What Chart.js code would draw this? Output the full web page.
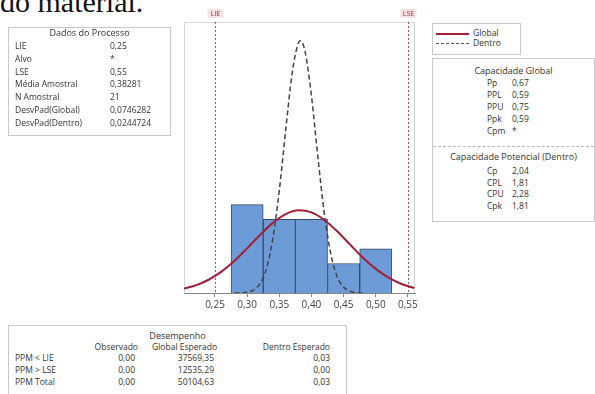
<!DOCTYPE html>
<html>
<head>
<meta charset="utf-8">
<script src="https://cdn.jsdelivr.net/npm/chart.js@4"></script>
<style>
  body { margin: 0; width: 595px; height: 394px; overflow: hidden; position: relative; background: #fff;
         font-family: "Open Sans", sans-serif; color: #333; }
  #chart { position: absolute; left: 0; top: 0; }
  .box { position: absolute; border: 1px solid #c9c9c9; background: #fff; font-size: 8.5px; }
  .ln { position: absolute; line-height: 12px; height: 12px; white-space: nowrap; }
  .title { font-size: 9px; }
  .head { position: absolute; top: -13px; left: 0; font: 30px/30px "Liberation Serif", serif; color: #111; white-space: nowrap; }
</style>
</head>
<body>
<div class="head">do material.</div>
<canvas id="chart" width="595" height="394"></canvas>

<script>
// histogram
const binCenters = [0.30, 0.35, 0.40, 0.45, 0.50];
const binCounts = [6, 5, 5, 2, 3];

// fitted curves (scaled to counts)
const globalX = [0.20, 0.22, 0.24, 0.26, 0.28, 0.30, 0.32, 0.34, 0.36, 0.38, 0.40, 0.42, 0.44, 0.46, 0.48, 0.50, 0.52, 0.54, 0.56];
const globalY = [0.28, 0.52, 0.90, 1.45, 2.17, 3.03, 3.94, 4.76, 5.36, 5.61, 5.47, 4.96, 4.19, 3.29, 2.40, 1.64, 1.04, 0.61, 0.34];
const withinX = [0.28, 0.30, 0.31, 0.32, 0.33, 0.34, 0.35, 0.36, 0.37, 0.38, 0.383, 0.39, 0.40, 0.41, 0.42, 0.43, 0.44, 0.45, 0.46, 0.47, 0.48];
const withinY = [0.00, 0.06, 0.20, 0.64, 1.67, 3.71, 6.97, 11.09, 14.93, 17.01, 17.12, 16.40, 13.38, 9.23, 5.39, 2.67, 1.12, 0.40, 0.12, 0.03, 0.00];

const xTicks = [0.25, 0.30, 0.35, 0.40, 0.45, 0.50, 0.55];
const specValues = [0.25, 0.55];
const specNames = ["LIE", "LSE"];

// side tables
const processLabels = ["LIE", "Alvo", "LSE", "Média Amostral", "N Amostral", "DesvPad(Global)", "DesvPad(Dentro)"];
const processValues = ["0,25", "*", "0,55", "0,38281", "21", "0,0746282", "0,0244724"];
const globalCapLabels = ["Pp", "PPL", "PPU", "Ppk", "Cpm"];
const globalCapValues = ["0,67", "0,59", "0,75", "0,59", "*"];
const withinCapLabels = ["Cp", "CPL", "CPU", "Cpk"];
const withinCapValues = ["2,04", "1,81", "2,28", "1,81"];
const perfRows = ["PPM < LIE", "PPM > LSE", "PPM Total"];
const perfCols = ["Observado", "Global Esperado", "Dentro Esperado"];
const perfObserved = ["0,00", "0,00", "0,00"];
const perfGlobal = ["37569,35", "12535,29", "50104,63"];
const perfWithin = ["0,03", "0,00", "0,03"];

function box(left, top, w, h) {
  const b = document.createElement("div");
  b.className = "box";
  Object.assign(b.style, { left: left + "px", top: top + "px", width: w + "px", height: h + "px" });
  document.body.appendChild(b);
  return b;
}
function line(b, text, x, cy, align, cls) {
  const d = document.createElement("div");
  d.className = "ln" + (cls ? " " + cls : "");
  d.textContent = text;
  d.style.top = (cy - 6) + "px";
  if (align === "center") { d.style.left = "0"; d.style.width = "100%"; d.style.textAlign = "center"; }
  else if (align === "right") { d.style.right = (b.clientWidth - x) + "px"; }
  else d.style.left = x + "px";
  b.appendChild(d);
}

// Dados do Processo
const b1 = box(8, 27, 161, 107);
line(b1, "Dados do Processo", 0, 5, "center", "title");
processLabels.forEach((t, i) => {
  line(b1, t, 6, 18 + i * 12.8);
  line(b1, processValues[i], 101, 18 + i * 12.8);
});

// legend
const lg = box(432, 23, 87, 30);
[["Global", "2px solid #a0203a", 9], ["Dentro", "1.5px dashed #555", 19]].forEach(([t, st, cy]) => {
  const s = document.createElement("div");
  Object.assign(s.style, { position: "absolute", left: "3px", width: "33px", top: cy + "px", borderTop: st });
  lg.appendChild(s);
  line(lg, t, 40, cy);
});

// Capacidade
const b2 = box(432, 58, 161, 162);
line(b2, "Capacidade Global", 0, 12, "center", "title");
globalCapLabels.forEach((t, i) => {
  line(b2, t, 54, 24 + i * 12);
  line(b2, globalCapValues[i], 79, 24 + i * 12);
});
const sep = document.createElement("div");
Object.assign(sep.style, { position: "absolute", left: "0", right: "0", top: "87px", borderTop: "1px dashed #bbb" });
b2.appendChild(sep);
line(b2, "Capacidade Potencial (Dentro)", 0, 98, "center", "title");
withinCapLabels.forEach((t, i) => {
  line(b2, t, 54, 112 + i * 11.6);
  line(b2, withinCapValues[i], 79, 112 + i * 11.6);
});

// Desempenho
const b3 = box(8, 325, 337, 80);
line(b3, "Desempenho", 0, 10, "center", "title");
const colRight = [129, 208, 321];
perfCols.forEach((t, i) => line(b3, t, colRight[i], 21, "right"));
perfRows.forEach((t, i) => {
  const cy = 32 + i * 12;
  line(b3, t, 6, cy);
  line(b3, perfObserved[i], 126, cy, "right");
  line(b3, perfGlobal[i], 205, cy, "right");
  line(b3, perfWithin[i], 321, cy, "right");
});

// chart
const specLines = {
  id: "specLines",
  beforeDatasetsDraw(chart) {
    const { ctx, chartArea: a, scales: { x } } = chart;
    ctx.save();
    ctx.strokeStyle = "#d8d8d8";
    ctx.lineWidth = 1;
    ctx.beginPath();
    ctx.moveTo(a.left + 0.5, a.bottom); ctx.lineTo(a.left + 0.5, a.top + 0.5);
    ctx.lineTo(a.right - 0.5, a.top + 0.5); ctx.lineTo(a.right - 0.5, a.bottom);
    ctx.stroke();
    specValues.forEach((v, i) => {
      const px = Math.round(x.getPixelForValue(v)) + 0.5;
      ctx.strokeStyle = "#b85050";
      ctx.setLineDash([2, 2]);
      ctx.beginPath();
      ctx.moveTo(px, a.top); ctx.lineTo(px, a.bottom);
      ctx.stroke();
      ctx.setLineDash([]);
      ctx.fillStyle = "#f6e2e2";
      ctx.fillRect(px - 8, a.top - 13, 16, 9);
      ctx.fillStyle = "#a03030";
      ctx.font = "7px 'Open Sans'";
      ctx.textAlign = "center";
      ctx.textBaseline = "middle";
      ctx.fillText(specNames[i], px, a.top - 8.5);
    });
    ctx.restore();
  }
};

new Chart(document.getElementById("chart"), {
  type: "bar",
  data: {
    datasets: [
      {
        type: "line",
        label: "Global",
        data: globalX.map((x, i) => ({ x, y: globalY[i] })),
        borderColor: "#a0203a",
        borderWidth: 2,
        pointRadius: 0,
        cubicInterpolationMode: "monotone",
        order: 1,
      },
      {
        type: "line",
        label: "Dentro",
        data: withinX.map((x, i) => ({ x, y: withinY[i] })),
        borderColor: "#444",
        borderWidth: 1.5,
        borderDash: [5, 3],
        pointRadius: 0,
        cubicInterpolationMode: "monotone",
        order: 2,
      },
      {
        label: "Histograma",
        data: binCenters.map((x, i) => ({ x, y: binCounts[i] })),
        backgroundColor: "#6d9bd8",
        borderColor: "#3a4a66",
        borderWidth: 1,
        barPercentage: 1,
        categoryPercentage: 1,
        order: 3,
      },
    ],
  },
  options: {
    responsive: false,
    animation: false,
    layout: { padding: { left: 184, right: 180, top: 22, bottom: 81 } },
    scales: {
      x: {
        type: "linear",
        offset: false,
        min: 0.2018,
        max: 0.561,
        afterBuildTicks: (ax) => { ax.ticks = xTicks.map((v) => ({ value: v })); },
        ticks: {
          callback: (v) => v.toFixed(2).replace(".", ","),
          font: { size: 10, family: "Open Sans" },
          color: "#444",
          padding: 2,
          maxRotation: 0,
        },
        grid: { offset: false, drawOnChartArea: false, tickLength: 4, color: "#888" },
        border: { color: "#888" },
      },
      y: { display: false, min: 0, max: 18.4 },
    },
    plugins: { legend: { display: false }, tooltip: { enabled: false } },
  },
  plugins: [specLines],
});
</script>
</body>
</html>
